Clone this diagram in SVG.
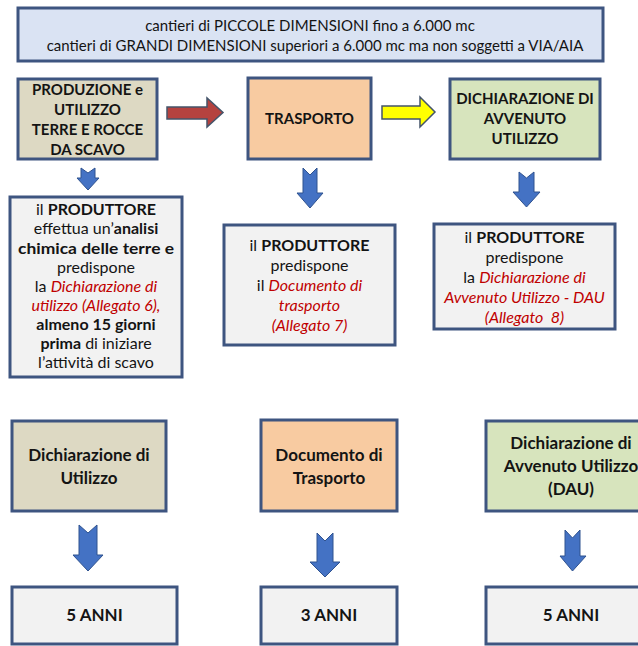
<svg xmlns="http://www.w3.org/2000/svg" width="638" height="646" viewBox="0 0 638 646">
<style>
text{font-family:Lato,"Liberation Sans","DejaVu Sans",sans-serif;fill:#141414;text-anchor:middle}
.box{stroke:#3e5580;stroke-width:3}
.banner{fill:#dae3f3}
.tan{fill:#ddd9c3}
.peach{fill:#f8cba1}
.green{fill:#d7e4bd}
.grey{fill:#f2f2f2}
.t15{font-size:15px}
.t16{font-size:16px}
.t17{font-size:17px}
.b{font-weight:bold}
.r{fill:#c00000;font-style:italic}
.darr{fill:#4472c4;stroke:#2f528f;stroke-width:1}
</style>
<rect width="638" height="646" fill="#ffffff"/>
<g id="banner">
<rect class="box banner" x="18" y="8" width="585" height="53"/>
<text class="t15" x="310" y="31">cantieri di PICCOLE DIMENSIONI fino a 6.000 mc</text>
<text class="t15" x="315" y="51">cantieri di GRANDI DIMENSIONI superiori a 6.000 mc ma non soggetti a VIA/AIA</text>
</g>
<g id="produzione">
<rect class="box tan" x="18" y="79" width="139" height="80"/>
<text class="t15 b" x="87.5" y="95">PRODUZIONE e</text>
<text class="t15 b" x="87.5" y="115">UTILIZZO</text>
<text class="t15 b" x="87.5" y="135">TERRE E ROCCE</text>
<text class="t15 b" x="87.5" y="155">DA SCAVO</text>
</g>
<g id="trasporto">
<rect class="box peach" x="248" y="78" width="123" height="81"/>
<text class="t15 b" x="309.5" y="124">TRASPORTO</text>
</g>
<g id="dichiarazione-avvenuto">
<rect class="box green" x="450" y="79" width="150" height="80"/>
<text class="t15 b" x="525" y="104">DICHIARAZIONE DI</text>
<text class="t15 b" x="525" y="124">AVVENUTO</text>
<text class="t15 b" x="525" y="144">UTILIZZO</text>
</g>
<g id="testo-produttore-1">
<rect class="box grey" x="10" y="197" width="172" height="180"/>
<text class="t16" x="96" y="215">il <tspan class="b">PRODUTTORE</tspan></text>
<text class="t16" x="96" y="234">effettua un’<tspan class="b">analisi</tspan></text>
<text class="t16 b" x="96" y="254" textLength="156" lengthAdjust="spacingAndGlyphs">chimica delle terre e</text>
<text class="t16" x="96" y="273">predispone</text>
<text class="t16" x="96" y="292">la <tspan class="r">Dichiarazione di</tspan></text>
<text class="t16 r" x="96" y="311">utilizzo (Allegato 6),</text>
<text class="t16 b" x="96" y="330">almeno 15 giorni</text>
<text class="t16" x="96" y="349"><tspan class="b">prima</tspan> di iniziare</text>
<text class="t16" x="96" y="368">l’attività di scavo</text>
</g>
<g id="testo-produttore-2">
<rect class="box grey" x="224" y="225" width="171" height="120"/>
<text class="t16" x="309.5" y="251">il <tspan class="b">PRODUTTORE</tspan></text>
<text class="t16" x="309.5" y="271">predispone</text>
<text class="t16" x="309.5" y="291">il <tspan class="r">Documento di</tspan></text>
<text class="t16 r" x="309.5" y="311">trasporto</text>
<text class="t16 r" x="309.5" y="331">(Allegato 7)</text>
</g>
<g id="testo-produttore-3">
<rect class="box grey" x="434" y="224" width="181" height="105"/>
<text class="t16" x="524.5" y="243">il <tspan class="b">PRODUTTORE</tspan></text>
<text class="t16" x="524.5" y="263">predispone</text>
<text class="t16" x="524.5" y="283">la <tspan class="r">Dichiarazione di</tspan></text>
<text class="t16 r" x="524.5" y="303">Avvenuto Utilizzo - DAU</text>
<text class="t16 r" x="524.5" y="323">(Allegato&#160; 8)</text>
</g>
<g id="doc-utilizzo">
<rect class="box tan" x="12" y="421" width="154" height="90"/>
<text class="t17 b" x="89" y="461">Dichiarazione di</text>
<text class="t17 b" x="89" y="484">Utilizzo</text>
</g>
<g id="doc-trasporto">
<rect class="box peach" x="261" y="420" width="136" height="91"/>
<text class="t17 b" x="329" y="461">Documento di</text>
<text class="t17 b" x="329" y="484">Trasporto</text>
</g>
<g id="doc-dau">
<rect class="box green" x="486" y="421" width="170" height="90"/>
<text class="t17 b" x="571" y="449">Dichiarazione di</text>
<text class="t17 b" x="571" y="472">Avvenuto Utilizzo</text>
<text class="t17 b" x="571" y="495">(DAU)</text>
</g>
<g id="anni-1">
<rect class="box grey" x="12" y="587" width="165" height="57"/>
<text class="t17 b" x="94.5" y="621">5 ANNI</text>
</g>
<g id="anni-2">
<rect class="box grey" x="261" y="587" width="136" height="57"/>
<text class="t17 b" x="329" y="621">3 ANNI</text>
</g>
<g id="anni-3">
<rect class="box grey" x="486" y="587" width="170" height="57"/>
<text class="t17 b" x="571" y="621">5 ANNI</text>
</g>
<g id="connectors">
<path d="M167 107 L207 107 L207 98 L223 112.5 L207 127 L207 119 L167 119 Z" fill="#b5423f" stroke="#44546a" stroke-width="1.5"/>
<path d="M382 106 L420 106 L420 97 L435 112 L420 127 L420 119 L382 119 Z" fill="#ffff00" stroke="#44546a" stroke-width="1.5"/>
<path class="darr" d="M81 168 L88 173 L95 168 L95 178 L99 178 L88 190 L77 178 L81 178 Z"/>
<path class="darr" d="M303 168 L310 175 L317 168 L317 193 L323 193 L310 208 L297 193 L303 193 Z"/>
<path class="darr" d="M519 172 L526.5 178 L534 172 L534 192 L540 192 L526.5 207 L513 192 L519 192 Z"/>
<path class="darr" d="M79 525 L88 533 L97 525 L97 555 L103 555 L88 571 L73 555 L79 555 Z"/>
<path class="darr" d="M317 533 L325 541 L333 533 L333 562 L340 562 L325 577 L310 562 L317 562 Z"/>
<path class="darr" d="M565 530 L572.5 538 L580 530 L580 556 L586 556 L572.5 571 L560 556 L565 556 Z"/>
</g>
</svg>
